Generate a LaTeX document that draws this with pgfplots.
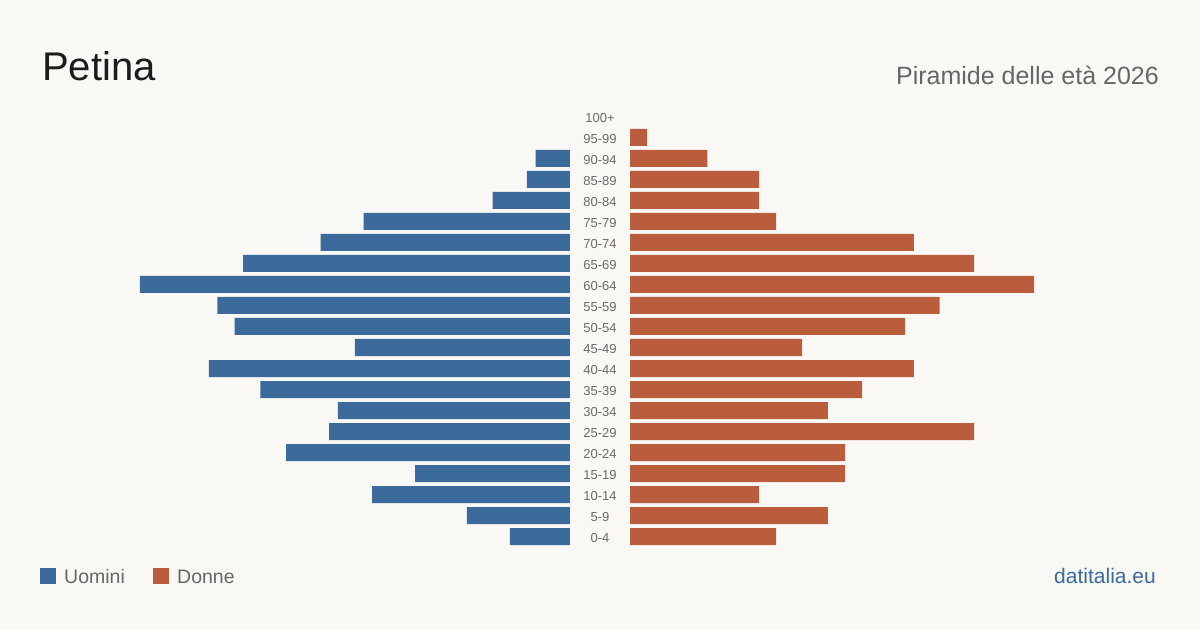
\documentclass[border=0pt]{standalone}
\usepackage{fontspec}
\setmainfont{Liberation Sans}
\usepackage{pgfplots}
\pgfplotsset{compat=1.18}

\definecolor{bg}{HTML}{F9F8F4}
\definecolor{uomini}{HTML}{3B6A9B}
\definecolor{donne}{HTML}{B95D3D}
\definecolor{ink}{HTML}{1C1C1C}
\definecolor{muted}{HTML}{666666}
\definecolor{agegray}{HTML}{6A6A6A}

% Common style of the two halves of the pyramid
\pgfplotsset{
  pyr/.style={
    xbar,
    scale only axis,
    width=430pt, height=441pt,
    xmin=0, xmax=50,
    ymin=-0.5, ymax=20.5,
    axis line style={draw=none},
    xtick=\empty,
    major tick length=0pt,
    bar width=17pt,
    clip=false,
  }
}

\begin{document}
\begin{tikzpicture}[x=1pt,y=1pt]
  \fill[bg] (0,0) rectangle (1200,630);

  % Men: bars grow to the left, age classes in the middle
  % (95-99 and 100+ are empty and have no bar)
  \begin{axis}[pyr,
      at={(140pt,83pt)}, anchor=south west,
      x dir=reverse,
      ytick={0,...,20},
      yticklabels={0-4,5-9,10-14,15-19,20-24,25-29,30-34,35-39,40-44,45-49,50-54,55-59,60-64,65-69,70-74,75-79,80-84,85-89,90-94,95-99,100+},
      yticklabel pos=right,
      ytick style={draw=none},
      yticklabel style={anchor=center, xshift=30pt, yshift=-1.5pt, inner sep=0pt,
        font=\fontsize{13}{13}\selectfont, text=agegray},
    ]
    \addplot[fill=uomini, draw=none] coordinates {
      (7,0) (12,1) (23,2) (18,3) (33,4) (28,5) (27,6) (36,7) (42,8) (25,9)
      (39,10) (41,11) (50,12) (38,13) (29,14) (24,15) (9,16) (5,17) (4,18)
    };
  \end{axis}

  % Women: bars grow to the right (100+ is empty)
  \begin{axis}[pyr,
      at={(630pt,83pt)}, anchor=south west,
      ytick=\empty,
    ]
    \addplot[fill=donne, draw=none] coordinates {
      (17,0) (23,1) (15,2) (25,3) (25,4) (40,5) (23,6) (27,7) (33,8) (20,9)
      (32,10) (36,11) (47,12) (40,13) (33,14) (17,15) (15,16) (15,17) (9,18)
      (2,19)
    };
  \end{axis}

  % Title and subtitle
  \node[anchor=base west, inner sep=0pt, text=ink,
        font=\fontsize{40}{40}\selectfont] at (42,549.5) {Petina};
  \node[anchor=base east, inner sep=0pt, text=muted,
        font=\fontsize{25}{25}\selectfont] at (1159,545) {Piramide delle età 2026};

  % Legend
  \fill[uomini] (40,46) rectangle (56,62);
  \node[anchor=base west, inner sep=0pt, text=muted,
        font=\fontsize{19.5}{19.5}\selectfont] at (64,47) {Uomini};
  \fill[donne] (153,46) rectangle (169,62);
  \node[anchor=base west, inner sep=0pt, text=muted,
        font=\fontsize{19.5}{19.5}\selectfont] at (177,47) {Donne};

  % Source
  \node[anchor=base east, inner sep=0pt, text=uomini,
        font=\fontsize{21}{21}\selectfont] at (1156,47) {datitalia.eu};
\end{tikzpicture}
\end{document}
